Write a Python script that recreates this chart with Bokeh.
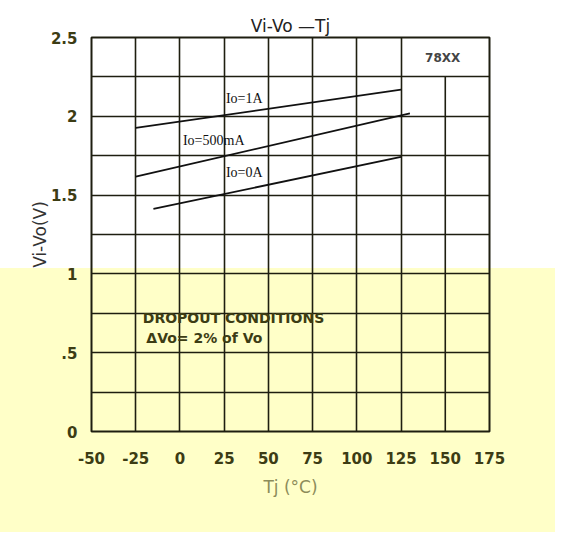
from bokeh.plotting import figure
from bokeh.models import Range1d, FixedTicker, Label, Title
from bokeh.embed import file_html
from bokeh.resources import INLINE

# ---- data ----
x_ticks = [-50, -25, 0, 25, 50, 75, 100, 125, 150, 175]
x_tick_labels = ["-50", "-25", "0", "25", "50", "75", "100", "125", "150", "175"]
y_ticks = [0, 0.5, 1.0, 1.5, 2.0, 2.5]
y_tick_labels = ["0", ".5", "1", "1.5", "2", "2.5"]
y_minor = [0.25, 0.75, 1.25, 1.75, 2.25]

tj_1a = [-25, 125]
v_1a = [1.926, 2.169]
tj_500ma = [-25, 130]
v_500ma = [1.617, 2.019]
tj_0a = [-15, 125]
v_0a = [1.413, 1.742]

series_names = ["Io=1A", "Io=500mA", "Io=0A"]
device_name = "78XX"
note_lines = ["DROPOUT  CONDITIONS", "\u0394Vo= 2% of Vo"]

LINE = "#1e1e10"
TXT = "#3c3c14"

p = figure(width=555, height=536, output_backend="svg", toolbar_location=None,
           x_range=Range1d(-50, 175), y_range=Range1d(0, 2.5),
           min_border_left=91, min_border_right=66, min_border_top=37, min_border_bottom=105)

p.title = Title(text="Vi-Vo \u2014Tj", align="center", text_font="DejaVu Sans",
                text_font_size="17px", text_font_style="normal", text_color="#222222", standoff=4)

# transparent canvas; the yellowish lower part of the scanned sheet is a CSS background
p.border_fill_color = None
p.background_fill_color = None
p.styles = {"background": "linear-gradient(to bottom, #ffffff 0px, #ffffff 268px, "
                          "#FFFFC8 268px, #FFFFC8 532px, #ffffff 532px)"}

p.outline_line_color = LINE
p.outline_line_width = 2

p.xaxis.ticker = FixedTicker(ticks=x_ticks)
p.xaxis.major_label_overrides = {t: l for t, l in zip(x_ticks, x_tick_labels)}
p.yaxis.ticker = FixedTicker(ticks=y_ticks, minor_ticks=y_minor)
p.yaxis.major_label_overrides = {t: l for t, l in zip(y_ticks, y_tick_labels)}

for ax in (p.xaxis[0], p.yaxis[0]):
    ax.axis_line_color = None
    ax.major_tick_line_color = None
    ax.minor_tick_line_color = None
    ax.major_tick_out = 0
    ax.minor_tick_out = 0
    ax.major_label_text_font = "DejaVu Sans"
    ax.major_label_text_font_size = "15px"
    ax.major_label_text_font_style = "bold"
    ax.major_label_text_color = TXT

p.xaxis.major_label_standoff = 20
p.yaxis.major_label_standoff = 14
p.xaxis.axis_label = "Tj (\u00b0C)"
p.xaxis.axis_label_text_font = "DejaVu Sans"
p.xaxis.axis_label_text_font_size = "17px"
p.xaxis.axis_label_text_font_style = "normal"
p.xaxis.axis_label_text_color = "#8c8c5a"
p.xaxis.axis_label_standoff = 10

p.yaxis.axis_label = "Vi-Vo(V)"
p.yaxis.axis_label_text_font = "DejaVu Sans"
p.yaxis.axis_label_text_font_size = "17px"
p.yaxis.axis_label_text_font_style = "normal"
p.yaxis.axis_label_text_color = "#333333"
p.yaxis.axis_label_standoff = -2

# vertical grid: the 150 line stops below the top row (the "78XX" cell spans 125..175)
p.xgrid.ticker = FixedTicker(ticks=[t for t in x_ticks if t != 150])
p.xgrid.grid_line_color = LINE
p.xgrid.grid_line_width = 1.6
p.ygrid.grid_line_color = LINE
p.ygrid.grid_line_width = 1.6
p.ygrid.minor_grid_line_color = LINE
p.ygrid.minor_grid_line_width = 1.6
p.segment(x0=[x_ticks[8]], y0=[y_ticks[0]], x1=[x_ticks[8]], y1=[y_minor[-1]],
          line_color=LINE, line_width=1.6)

for xs, ys in [(tj_1a, v_1a), (tj_500ma, v_500ma), (tj_0a, v_0a)]:
    p.line(xs, ys, line_color="#111111", line_width=1.8)

label_pos = [(26, 2.114), (1.7, 1.845), (26, 1.645)]
for name, (lx, ly) in zip(series_names, label_pos):
    p.add_layout(Label(x=lx, y=ly, text=name, text_font="Liberation Serif", text_font_size="14px",
                       text_color="#111111", text_baseline="middle", text_align="left"))

p.add_layout(Label(x=138.6, y=2.373, text=device_name, text_font="DejaVu Sans", text_font_size="12px",
                   text_font_style="bold", text_color="#444444", text_baseline="middle"))
p.add_layout(Label(x=-21, y=0.72, text=note_lines[0], text_font="DejaVu Sans",
                   text_font_size="14px", text_font_style="bold", text_color=TXT, text_baseline="middle"))
p.add_layout(Label(x=-19, y=0.595, text=note_lines[1], text_font="DejaVu Sans",
                   text_font_size="14px", text_font_style="bold", text_color=TXT, text_baseline="middle"))

open("out.html", "w").write(file_html(p, INLINE))
